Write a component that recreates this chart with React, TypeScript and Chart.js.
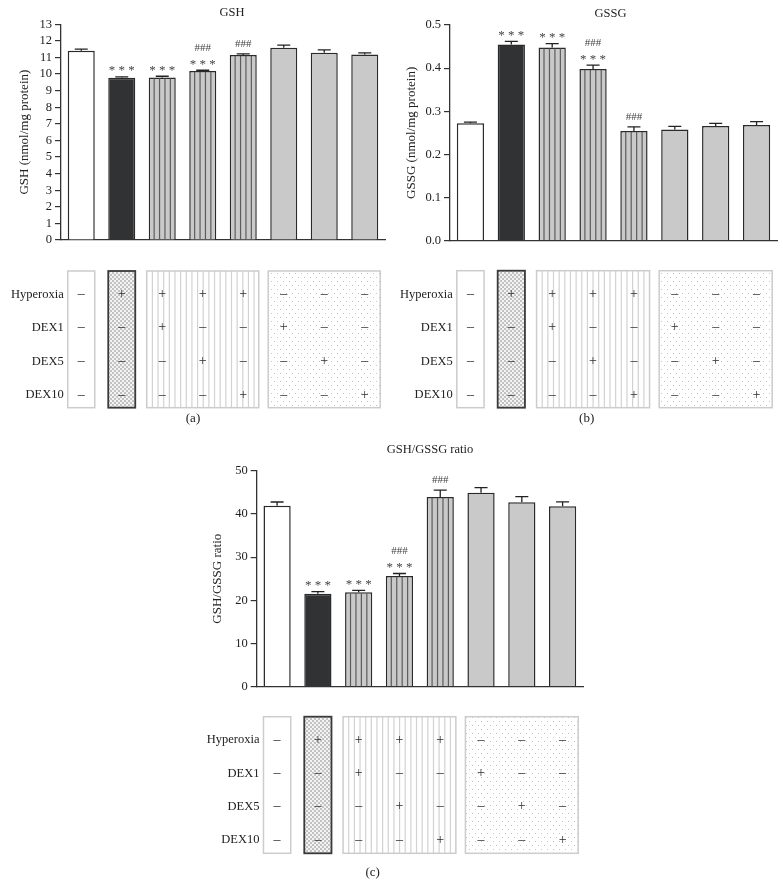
import React, { useEffect, useRef } from 'react';
import { Chart, registerables } from 'chart.js';

Chart.register(...registerables);

const FONT = "'Liberation Serif', 'Times New Roman', serif";
const PAGE_W = 783;
const PAGE_H = 885;
const Y_W = 40;

// ---------------- data ----------------
const groups = [
  'Control',
  'Hyperoxia',
  'Hyperoxia + DEX1',
  'Hyperoxia + DEX5',
  'Hyperoxia + DEX10',
  'DEX1',
  'DEX5',
  'DEX10',
];

const gshMeans = [11.4, 9.78, 9.8, 10.18, 11.15, 11.58, 11.28, 11.18];
const gshSem = [0.1, 0.05, 0.07, 0.05, 0.07, 0.17, 0.18, 0.1];
const gshStars = ['', '***', '***', '***', '', '', '', ''];
const gshHashes = ['', '', '', '###', '###', '', '', ''];

const gssgMeans = [0.272, 0.455, 0.448, 0.398, 0.254, 0.258, 0.266, 0.268];
const gssgSem = [0.003, 0.007, 0.009, 0.009, 0.01, 0.007, 0.006, 0.008];
const gssgStars = ['', '***', '***', '***', '', '', '', ''];
const gssgHashes = ['', '', '', '###', '###', '', '', ''];

const ratioMeans = [41.9, 21.5, 21.85, 25.6, 43.9, 44.9, 42.7, 41.75];
const ratioSem = [0.85, 0.5, 0.45, 0.6, 1.6, 1.2, 1.3, 1.05];
const ratioStars = ['', '***', '***', '***', '', '', '', ''];
const ratioHashes = ['', '', '', '###', '###', '', '', ''];

const treatmentLabels = ['Hyperoxia', 'DEX1', 'DEX5', 'DEX10'];
const hyperoxiaSigns = ['–', '+', '+', '+', '+', '–', '–', '–'];
const dex1Signs = ['–', '–', '+', '–', '–', '+', '–', '–'];
const dex5Signs = ['–', '–', '–', '+', '–', '–', '+', '–'];
const dex10Signs = ['–', '–', '–', '–', '+', '–', '–', '+'];
const boxSpans = [[0, 0], [1, 1], [2, 4], [5, 7]];

// ---------------- styles ----------------
const BAR_FILL = ['#ffffff', '#313234', '#c9c9c9', '#c9c9c9', '#c9c9c9', '#c9c9c9', '#c9c9c9', '#c9c9c9'];
const BAR_STRIPED = [false, false, true, true, true, false, false, false];
const BOX_KIND = ['plain', 'checker', 'stripes', 'dots'];

type PanelCfg = {
  key: string;
  title: string;
  yLabel: string;
  means: number[];
  sem: number[];
  stars: string[];
  hashes: string[];
  max: number;
  step: number;
  decimals: number;
  area: { l: number; r: number; t: number; b: number };
  titleX: number;
  titleY: number;
  yLabelOffset: number;
  table: { top: number; bottom: number; rows: number[]; caption: string; capX: number; capY: number };
};

const panels: PanelCfg[] = [
  {
    key: 'a',
    title: 'GSH',
    yLabel: 'GSH (nmol/mg protein)',
    means: gshMeans,
    sem: gshSem,
    stars: gshStars,
    hashes: gshHashes,
    max: 13,
    step: 1,
    decimals: 0,
    area: { l: 61, r: 385, t: 24.3, b: 240 },
    titleX: 232,
    titleY: 13,
    yLabelOffset: 36,
    table: { top: 271, bottom: 407.7, rows: [294.3, 327.7, 361.7, 395], caption: '(a)', capX: 193, capY: 418.5 },
  },
  {
    key: 'b',
    title: 'GSSG',
    yLabel: 'GSSG (nmol/mg protein)',
    means: gssgMeans,
    sem: gssgSem,
    stars: gssgStars,
    hashes: gssgHashes,
    max: 0.5,
    step: 0.1,
    decimals: 1,
    area: { l: 450, r: 777, t: 25, b: 240.7 },
    titleX: 610.5,
    titleY: 13.7,
    yLabelOffset: 38,
    table: { top: 270.7, bottom: 407.7, rows: [294.3, 327.7, 361.7, 395], caption: '(b)', capX: 586.7, capY: 418.5 },
  },
  {
    key: 'c',
    title: 'GSH/GSSG ratio',
    yLabel: 'GSH/GSSG ratio',
    means: ratioMeans,
    sem: ratioSem,
    stars: ratioStars,
    hashes: ratioHashes,
    max: 50,
    step: 10,
    decimals: 0,
    area: { l: 256.7, r: 583, t: 470.7, b: 686.7 },
    titleX: 430,
    titleY: 450,
    yLabelOffset: 39.5,
    table: { top: 716.7, bottom: 853.3, rows: [740, 773.3, 806.7, 840], caption: '(c)', capX: 372.7, capY: 872.7 },
  },
];

function makePattern(kind: string): HTMLCanvasElement {
  const c = document.createElement('canvas');
  if (kind === 'checker') {
    c.width = 4;
    c.height = 4;
    const g = c.getContext('2d')!;
    g.fillStyle = '#f3f3f3';
    g.fillRect(0, 0, 4, 4);
    g.fillStyle = '#c2c2c2';
    g.fillRect(0, 0, 2, 2);
    g.fillRect(2, 2, 2, 2);
  } else {
    c.width = 6;
    c.height = 8;
    const g = c.getContext('2d')!;
    g.fillStyle = '#ffffff';
    g.fillRect(0, 0, 6, 8);
    g.fillStyle = '#c4c4c4';
    g.fillRect(1, 1, 1, 1);
    g.fillRect(4, 5, 1, 1);
  }
  return c;
}

function drawBox(ctx: CanvasRenderingContext2D, kind: string, x: number, y: number, w: number, h: number) {
  ctx.save();
  ctx.fillStyle = '#ffffff';
  ctx.fillRect(x, y, w, h);
  if (kind === 'checker' || kind === 'dots') {
    const pat = ctx.createPattern(makePattern(kind), 'repeat');
    if (pat) {
      ctx.fillStyle = pat;
      ctx.fillRect(x, y, w, h);
    }
  }
  if (kind === 'stripes') {
    ctx.strokeStyle = '#d2d2d2';
    ctx.lineWidth = 1.2;
    for (let sx = x + 5.65; sx < x + w - 2; sx += 5.65) {
      ctx.beginPath();
      ctx.moveTo(sx, y);
      ctx.lineTo(sx, y + h);
      ctx.stroke();
    }
  }
  ctx.strokeStyle = kind === 'checker' ? '#3a3a3a' : '#cccccc';
  ctx.lineWidth = kind === 'checker' ? 1.8 : 1.5;
  ctx.strokeRect(x, y, w, h);
  ctx.restore();
}

function makeFigurePlugin(cfg: PanelCfg) {
  return {
    id: 'figure-' + cfg.key,
    afterDatasetsDraw(chart: any) {
      const ctx: CanvasRenderingContext2D = chart.ctx;
      const ys = chart.scales.y;
      const meta = chart.getDatasetMeta(0);
      ctx.save();
      meta.data.forEach((el: any, i: number) => {
        const { x, y, base, width } = el.getProps(['x', 'y', 'base', 'width'], true);
        if (BAR_STRIPED[i]) {
          ctx.strokeStyle = '#5c5c5c';
          ctx.lineWidth = 1.2;
          for (let k = 1; k < 5; k++) {
            const sx = x - width / 2 + (width * k) / 5;
            ctx.beginPath();
            ctx.moveTo(sx, y + 1);
            ctx.lineTo(sx, base);
            ctx.stroke();
          }
        }
        const top = ys.getPixelForValue(cfg.means[i] + cfg.sem[i]);
        ctx.strokeStyle = '#222';
        ctx.lineWidth = 1.3;
        ctx.beginPath();
        ctx.moveTo(x, y);
        ctx.lineTo(x, top);
        ctx.moveTo(x - 6.5, top);
        ctx.lineTo(x + 6.5, top);
        ctx.stroke();

        ctx.fillStyle = '#444';
        ctx.textAlign = 'center';
        ctx.textBaseline = 'alphabetic';
        const stars = cfg.stars[i];
        const hashes = cfg.hashes[i];
        if (stars) {
          ctx.font = `13px ${FONT}`;
          ctx.fillText(stars.split('').join(' '), x, top - 2.5);
        }
        if (hashes) {
          ctx.font = `11px ${FONT}`;
          ctx.fillText(hashes, x, stars ? top - 19.3 : top - 7.3);
        }
      });
      ctx.restore();
    },
    afterDraw(chart: any) {
      const ctx: CanvasRenderingContext2D = chart.ctx;
      const area = chart.chartArea;
      const xs = chart.scales.x;
      const meta = chart.getDatasetMeta(0);
      ctx.save();
      ctx.fillStyle = '#222';
      ctx.textAlign = 'center';
      ctx.textBaseline = 'middle';
      ctx.font = `12.5px ${FONT}`;
      ctx.fillText(cfg.title, cfg.titleX, cfg.titleY);

      ctx.save();
      ctx.translate(area.left - cfg.yLabelOffset, (area.top + area.bottom) / 2);
      ctx.rotate(-Math.PI / 2);
      ctx.font = `13px ${FONT}`;
      ctx.fillText(cfg.yLabel, 0, 0);
      ctx.restore();

      const half = meta.data[0].getProps(['width'], true).width / 2;
      const t = cfg.table;
      let firstLeft = 0;
      boxSpans.forEach(([a, b], j) => {
        const pad = a === b ? 0 : 2;
        const left = xs.getPixelForValue(a) - half - pad;
        const right = xs.getPixelForValue(b) + half + pad;
        if (j === 0) firstLeft = left;
        drawBox(ctx, BOX_KIND[j], left, t.top, right - left, t.bottom - t.top);
      });

      const signRows = [hyperoxiaSigns, dex1Signs, dex5Signs, dex10Signs];
      signRows.forEach((row, r) => {
        const yy = t.rows[r];
        ctx.fillStyle = '#2e2e2e';
        ctx.textAlign = 'center';
        ctx.font = `14px ${FONT}`;
        row.forEach((s, i) => ctx.fillText(s, xs.getPixelForValue(i), yy));
        ctx.fillStyle = '#222';
        ctx.textAlign = 'right';
        ctx.font = `12.5px ${FONT}`;
        ctx.fillText(treatmentLabels[r], firstLeft - 4, yy);
      });

      ctx.textAlign = 'center';
      ctx.font = `13px ${FONT}`;
      ctx.fillStyle = '#222';
      ctx.fillText(t.caption, t.capX, t.capY);
      ctx.restore();
    },
  };
}

function Panel({ cfg }: { cfg: PanelCfg }) {
  const ref = useRef<HTMLCanvasElement>(null);
  useEffect(() => {
    const chart = new Chart(ref.current!, {
      type: 'bar',
      data: {
        labels: groups,
        datasets: [
          {
            data: cfg.means,
            backgroundColor: BAR_FILL,
            borderColor: '#2a2a2a',
            borderWidth: 1.5,
            barPercentage: 0.667,
            categoryPercentage: 1,
          },
        ],
      },
      options: {
        responsive: false,
        animation: false,
        devicePixelRatio: 1,
        events: [],
        layout: {
          padding: {
            left: cfg.area.l - Y_W,
            right: PAGE_W - cfg.area.r,
            top: cfg.area.t,
            bottom: PAGE_H - cfg.area.b,
          },
        },
        plugins: {
          legend: { display: false },
          tooltip: { enabled: false },
          title: { display: false },
        },
        scales: {
          x: {
            type: 'category',
            offset: true,
            grid: { display: false },
            ticks: { display: false },
            border: { display: true, color: '#333', width: 1.3 },
            afterFit: (s: any) => {
              s.height = 0;
            },
          },
          y: {
            min: 0,
            max: cfg.max,
            ticks: {
              stepSize: cfg.step,
              autoSkip: false,
              callback: (v: any) => Number(v).toFixed(cfg.decimals),
              font: { family: FONT, size: 12.5 },
              color: '#222',
              padding: 3,
            },
            grid: {
              drawOnChartArea: false,
              drawTicks: true,
              tickLength: 6,
              color: '#333',
              lineWidth: 1.2,
            },
            border: { display: true, color: '#333', width: 1.3 },
            afterFit: (s: any) => {
              s.width = Y_W;
            },
          },
        },
      } as any,
      plugins: [makeFigurePlugin(cfg)],
    });
    return () => chart.destroy();
  }, [cfg]);
  return (
    <canvas
      ref={ref}
      width={PAGE_W}
      height={PAGE_H}
      style={{ position: 'absolute', left: 0, top: 0, width: PAGE_W, height: PAGE_H }}
    />
  );
}

export default function App() {
  return (
    <div
      style={{
        position: 'absolute',
        left: 0,
        top: 0,
        width: PAGE_W,
        height: PAGE_H,
        background: '#ffffff',
        overflow: 'hidden',
      }}
    >
      {panels.map((p) => (
        <Panel key={p.key} cfg={p} />
      ))}
    </div>
  );
}
